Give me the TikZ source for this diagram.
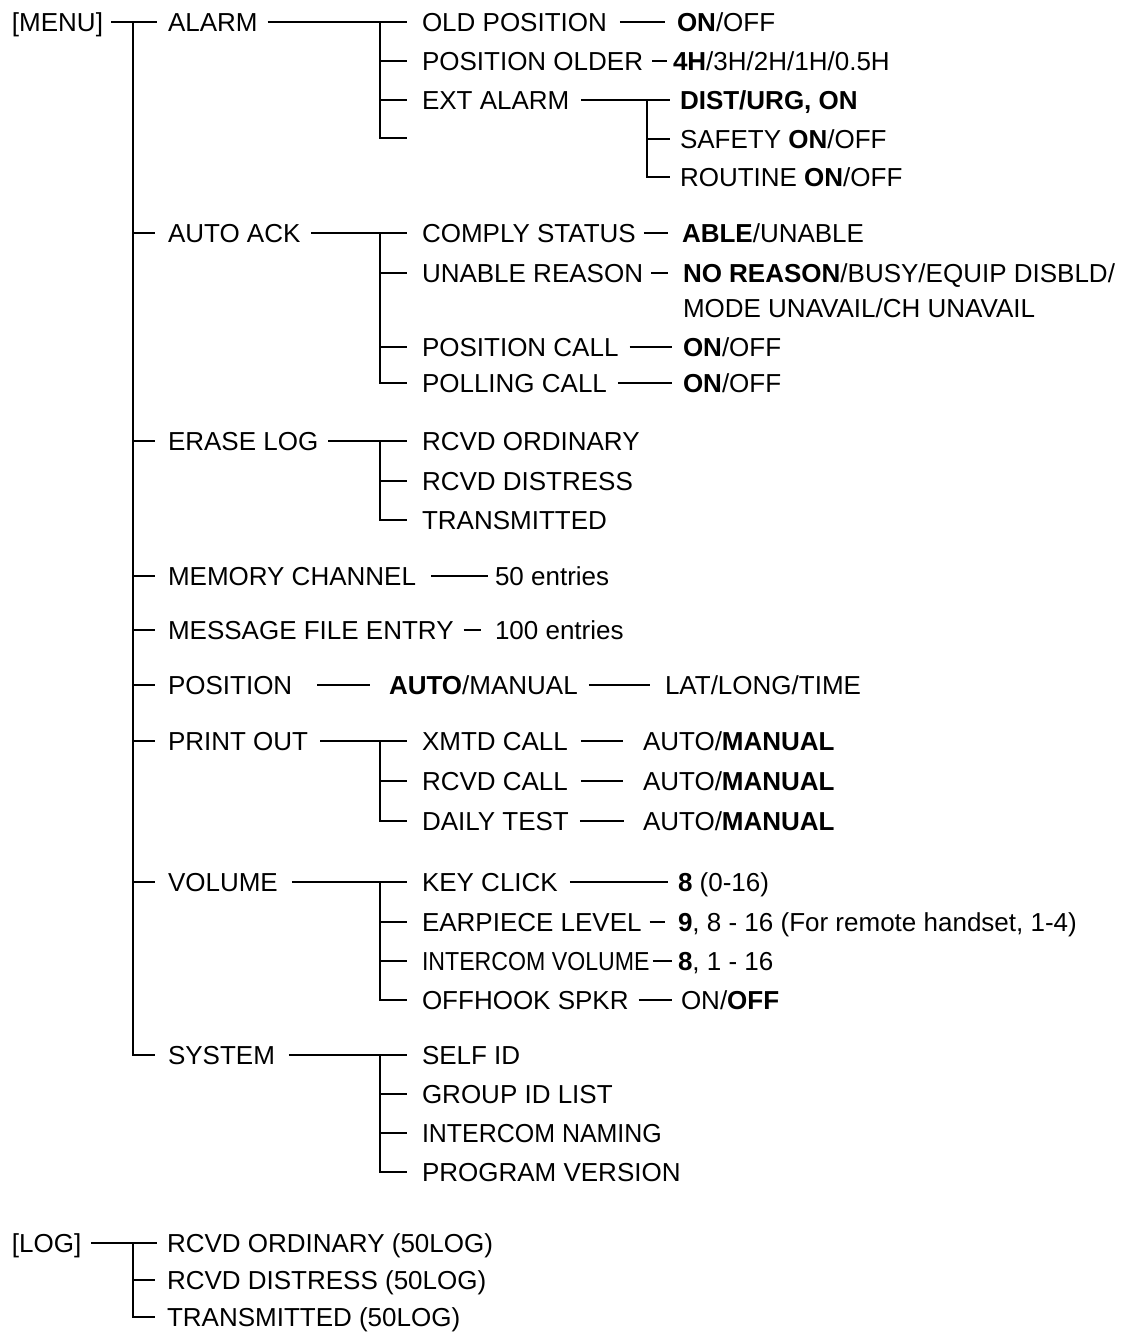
\documentclass[tikz,border=0pt]{standalone}
\usepackage{fontspec}
\setmainfont{Liberation Sans}
\begin{document}
\begin{tikzpicture}[x=0.75pt,y=-0.75pt,
  lbl/.style={anchor=west, inner sep=0pt, outer sep=0pt, text height=13.96pt, text depth=0pt,
    font=\fontsize{19.5pt}{23pt}\selectfont},
  ln/.style={line width=0.85pt, line cap=butt}]
\useasboundingbox (0,0) rectangle (1124,1333);

% ---------- level 0 / level 1 ----------
\node[lbl] (menu) at (12,22) {[MENU]};
\node[lbl] (alarm) at (168,22) {ALARM};
\node[lbl] (autoack) at (168,233) {AUTO ACK};
\node[lbl] (eraselog) at (168,441) {ERASE LOG};
\node[lbl] (memch) at (168,576) {MEMORY CHANNEL};
\node[lbl] (msgfile) at (168,630) {MESSAGE FILE ENTRY};
\node[lbl] (position) at (168,685) {POSITION};
\node[lbl] (printout) at (168,741) {PRINT OUT};
\node[lbl] (volume) at (168,882) {VOLUME};
\node[lbl] (system) at (168,1055) {SYSTEM};

\coordinate (t0) at (133,22);
\draw[ln] ([xshift=0.75*8]menu.east) -- ([xshift=-0.75*11]alarm.west);
\draw[ln] (t0) |- ([xshift=-0.75*13]system.west);
\foreach \n in {autoack,eraselog,memch,msgfile,position,printout,volume}
  \draw[ln] (t0 |- \n.west) -- ([xshift=-0.75*13]\n.west);

% ---------- ALARM ----------
\node[lbl] (oldpos) at (422,22) {OLD POSITION};
\node[lbl] (posolder) at (422,61) {POSITION OLDER};
\node[lbl] (extalarm) at (422,100) {EXT ALARM};
\coordinate (alarmempty) at (407,138);
\node[lbl] (oldposv) at (677,22) {\textbf{ON}/OFF};
\node[lbl] (posolderv) at (673,61) {\textbf{4H}/3H/2H/1H/0.5H};
\node[lbl] (dist) at (680,100) {\textbf{DIST/URG, ON}};
\node[lbl] (safety) at (680,139) {SAFETY \textbf{ON}/OFF};
\node[lbl] (routine) at (680,177) {ROUTINE \textbf{ON}/OFF};

\coordinate (ta) at (380,22);
\draw[ln] ([xshift=0.75*10]alarm.east) -- ([xshift=-0.75*15]oldpos.west);
\draw[ln] (ta) |- (alarmempty);
\foreach \n in {posolder,extalarm}
  \draw[ln] (ta |- \n.west) -- ([xshift=-0.75*15]\n.west);
\draw[ln] ([xshift=0.75*13]oldpos.east) -- ([xshift=-0.75*12]oldposv.west);
\draw[ln] ([xshift=0.75*9]posolder.east) -- ([xshift=-0.75*6]posolderv.west);
\coordinate (te) at (647,100);
\draw[ln] ([xshift=0.75*12]extalarm.east) -- ([xshift=-0.75*10]dist.west);
\draw[ln] (te) |- ([xshift=-0.75*10]routine.west);
\draw[ln] (te |- safety.west) -- ([xshift=-0.75*10]safety.west);

% ---------- AUTO ACK ----------
\node[lbl] (comply) at (422,233) {COMPLY STATUS};
\node[lbl] (unable) at (422,273) {UNABLE REASON};
\node[lbl] (poscall) at (422,347) {POSITION CALL};
\node[lbl] (pollcall) at (422,383) {POLLING CALL};
\node[lbl] (complyv) at (682,233) {\textbf{ABLE}/UNABLE};
\node[lbl] (unablev) at (683,273) {\textbf{NO REASON}/BUSY/EQUIP DISBLD/};
\node[lbl] (unablev2) at (683,308) {MODE UNAVAIL/CH UNAVAIL};
\node[lbl] (poscallv) at (683,347) {\textbf{ON}/OFF};
\node[lbl] (pollcallv) at (683,383) {\textbf{ON}/OFF};

\coordinate (tb) at (380,233);
\draw[ln] ([xshift=0.75*11]autoack.east) -- ([xshift=-0.75*15]comply.west);
\draw[ln] (tb) |- ([xshift=-0.75*15]pollcall.west);
\foreach \n in {unable,poscall}
  \draw[ln] (tb |- \n.west) -- ([xshift=-0.75*15]\n.west);
\draw[ln] ([xshift=0.75*8]comply.east) -- ([xshift=-0.75*14]complyv.west);
\draw[ln] ([xshift=0.75*8]unable.east) -- ([xshift=-0.75*15]unablev.west);
\draw[ln] ([xshift=0.75*11]poscall.east) -- ([xshift=-0.75*11]poscallv.west);
\draw[ln] ([xshift=0.75*11]pollcall.east) -- ([xshift=-0.75*11]pollcallv.west);

% ---------- ERASE LOG ----------
\node[lbl] (erord) at (422,441) {RCVD ORDINARY};
\node[lbl] (erdis) at (422,481) {RCVD DISTRESS};
\node[lbl] (ertx) at (422,520) {TRANSMITTED};
\coordinate (tc) at (380,441);
\draw[ln] ([xshift=0.75*10]eraselog.east) -- ([xshift=-0.75*15]erord.west);
\draw[ln] (tc) |- ([xshift=-0.75*15]ertx.west);
\draw[ln] (tc |- erdis.west) -- ([xshift=-0.75*15]erdis.west);

% ---------- MEMORY / MESSAGE / POSITION ----------
\node[lbl] (memchv) at (495,576) {50 entries};
\node[lbl] (msgfilev) at (495,630) {100 entries};
\node[lbl] (posv) at (389,685) {\textbf{AUTO}/MANUAL};
\node[lbl] (posv2) at (665,685) {LAT/LONG/TIME};
\draw[ln] ([xshift=0.75*15]memch.east) -- ([xshift=-0.75*7]memchv.west);
\draw[ln] ([xshift=0.75*10]msgfile.east) -- ([xshift=-0.75*14]msgfilev.west);
\draw[ln] ([xshift=0.75*25]position.east) -- ([xshift=-0.75*19]posv.west);
\draw[ln] ([xshift=0.75*11]posv.east) -- ([xshift=-0.75*15]posv2.west);

% ---------- PRINT OUT ----------
\node[lbl] (xmtd) at (422,741) {XMTD CALL};
\node[lbl] (rcvd) at (422,781) {RCVD CALL};
\node[lbl] (daily) at (422,821) {DAILY TEST};
\node[lbl] (xmtdv) at (643,741) {AUTO/\textbf{MANUAL}};
\node[lbl] (rcvdv) at (643,781) {AUTO/\textbf{MANUAL}};
\node[lbl] (dailyv) at (643,821) {AUTO/\textbf{MANUAL}};
\coordinate (td) at (380,741);
\draw[ln] ([xshift=0.75*12]printout.east) -- ([xshift=-0.75*15]xmtd.west);
\draw[ln] (td) |- ([xshift=-0.75*15]daily.west);
\draw[ln] (td |- rcvd.west) -- ([xshift=-0.75*15]rcvd.west);
\draw[ln] ([xshift=0.75*13]xmtd.east) -- ([xshift=-0.75*20]xmtdv.west);
\draw[ln] ([xshift=0.75*13]rcvd.east) -- ([xshift=-0.75*20]rcvdv.west);
\draw[ln] ([xshift=0.75*11]daily.east) -- ([xshift=-0.75*19]dailyv.west);

% ---------- VOLUME ----------
\node[lbl] (keyclick) at (422,882) {KEY CLICK};
\node[lbl] (earpiece) at (422,922) {EARPIECE LEVEL};
\node[lbl] (intercom) at (422,961) {\scalebox{0.89}[1]{INTERCOM VOLUME}};
\node[lbl] (offhook) at (422,1000) {OFFHOOK SPKR};
\node[lbl] (keyclickv) at (678,882) {\textbf{8} (0-16)};
\node[lbl] (earpiecev) at (678,922) {\textbf{9}, 8 - 16 (For remote handset, 1-4)};
\node[lbl] (intercomv) at (678,961) {\textbf{8}, 1 - 16};
\node[lbl] (offhookv) at (681,1000) {ON/\textbf{OFF}};
\coordinate (tv) at (380,882);
\draw[ln] ([xshift=0.75*14]volume.east) -- ([xshift=-0.75*15]keyclick.west);
\draw[ln] (tv) |- ([xshift=-0.75*15]offhook.west);
\foreach \n in {earpiece,intercom}
  \draw[ln] (tv |- \n.west) -- ([xshift=-0.75*15]\n.west);
\draw[ln] ([xshift=0.75*12]keyclick.east) -- ([xshift=-0.75*10]keyclickv.west);
\draw[ln] ([xshift=0.75*8]earpiece.east) -- ([xshift=-0.75*13]earpiecev.west);
\draw[ln] ([xshift=0.75*3]intercom.east) -- ([xshift=-0.75*6]intercomv.west);
\draw[ln] ([xshift=0.75*10]offhook.east) -- ([xshift=-0.75*9]offhookv.west);

% ---------- SYSTEM ----------
\node[lbl] (selfid) at (422,1055) {SELF ID};
\node[lbl] (groupid) at (422,1094) {GROUP ID LIST};
\node[lbl] (icnaming) at (422,1133) {\scalebox{0.96}[1]{INTERCOM NAMING}};
\node[lbl] (progver) at (422,1172) {PROGRAM VERSION};
\coordinate (ts) at (380,1055);
\draw[ln] ([xshift=0.75*14]system.east) -- ([xshift=-0.75*15]selfid.west);
\draw[ln] (ts) |- ([xshift=-0.75*15]progver.west);
\foreach \n in {groupid,icnaming}
  \draw[ln] (ts |- \n.west) -- ([xshift=-0.75*15]\n.west);

% ---------- LOG ----------
\node[lbl] (log) at (12,1243) {[LOG]};
\node[lbl] (logord) at (167,1243) {RCVD ORDINARY (50LOG)};
\node[lbl] (logdis) at (167,1280) {RCVD DISTRESS (50LOG)};
\node[lbl] (logtx) at (167,1317) {TRANSMITTED (50LOG)};
\coordinate (tl) at (133,1243);
\draw[ln] ([xshift=0.75*10]log.east) -- ([xshift=-0.75*10]logord.west);
\draw[ln] (tl) |- ([xshift=-0.75*12]logtx.west);
\draw[ln] (tl |- logdis.west) -- ([xshift=-0.75*12]logdis.west);
\end{tikzpicture}
\end{document}
